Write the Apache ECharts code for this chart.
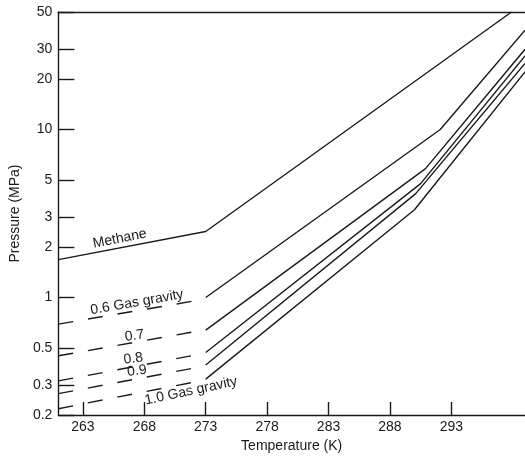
<!DOCTYPE html>
<html>
<head>
<meta charset="utf-8">
<script src="https://cdn.jsdelivr.net/npm/echarts@6/dist/echarts.min.js"></script>
<style>
  html, body { margin: 0; padding: 0; background: #fff; }
  #chart { width: 525px; height: 460px; }
</style>
</head>
<body>
<div id="chart"></div>
<script>
// temperature ticks and pressure ticks
const tempTicks = [263, 268, 273, 278, 283, 288, 293];
const pressTicks = [0.2, 0.3, 0.5, 1, 2, 3, 5, 10, 20, 30, 50];

// methane curve
const methaneT = [261, 273, 297.9];
const methaneP = [1.68, 2.47, 50];

// gas gravity curves: dashed below 273 K, solid above
const gravities = ['0.6', '0.7', '0.8', '0.9', '1.0'];
const lowT = [261, 273];
const lowStartP = [0.695, 0.45, 0.319, 0.268, 0.218];
const low273P = [0.98, 0.643, 0.467, 0.392, 0.324];
const high273P = [1.0, 0.64, 0.471, 0.397, 0.327];
const kinkT = [292.1, 290.9, 290.5, 290.1, 290.0];
const kinkP = [10.0, 5.85, 4.76, 4.15, 3.33];
const endT = 299;
const endP = [39, 30, 27.4, 24.7, 22.0];

// curve labels: text, temperature, pressure, angle (deg)
const labelText = ['Methane', '0.6 Gas gravity', '0.7', '0.8', '0.9', '1.0 Gas gravity'];
const labelT = [266.0, 267.4, 267.2, 267.1, 267.4, 271.8];
const labelP = [2.24, 0.936, 0.592, 0.433, 0.366, 0.278];
const labelAngle = [11, 10, 8, 8, 8, 12];

const font = 'Liberation Sans, Arial, sans-serif';
const ink = '#1a1a1a';

let chart = echarts.init(document.getElementById('chart'));

let series = [];
series.push({
  name: 'Methane',
  type: 'line',
  xAxisIndex: 0,
  yAxisIndex: 0,
  symbol: 'none',
  lineStyle: { color: ink, width: 1.4 },
  data: methaneT.map((t, i) => [t, methaneP[i]])
});
gravities.forEach((g, i) => {
  series.push({
    name: g + ' dashed',
    type: 'line',
    symbol: 'none',
    lineStyle: { color: ink, width: 1.4, type: [15, 15] },
    data: [[lowT[0], lowStartP[i]], [lowT[1], low273P[i]]]
  });
  series.push({
    name: g,
    type: 'line',
    symbol: 'none',
    lineStyle: { color: ink, width: 1.4 },
    data: [[273, high273P[i]], [kinkT[i], kinkP[i]], [endT, endP[i]]]
  });
});

let option = {
  animation: false,
  backgroundColor: '#fff',
  textStyle: { fontFamily: font, color: ink },
  grid: { left: 58, right: 0, top: 12, bottom: 45 },
  xAxis: [
    {
      type: 'value',
      min: 261,
      max: 299,
      name: 'Temperature (K)',
      nameLocation: 'middle',
      nameGap: 24,
      nameTextStyle: { fontSize: 14, color: ink, fontFamily: font },
      axisLine: { lineStyle: { color: ink, width: 1.4 } },
      axisTick: { inside: true, length: 13, customValues: tempTicks, lineStyle: { color: ink, width: 1.4 } },
      axisLabel: { customValues: tempTicks, fontSize: 14, color: ink, fontFamily: font, margin: 5 },
      splitLine: { show: false }
    },
    {
      type: 'value',
      position: 'top',
      min: 261,
      max: 299,
      axisLine: { show: true, lineStyle: { color: ink, width: 1.4 } },
      axisTick: { show: false },
      axisLabel: { show: false },
      splitLine: { show: false }
    }
  ],
  yAxis: {
    type: 'log',
    logBase: 10,
    min: 0.2,
    max: 50,
    name: 'Pressure (MPa)',
    nameLocation: 'middle',
    nameGap: 35,
    nameTextStyle: { fontSize: 14, color: ink, fontFamily: font },
    axisLine: { show: true, lineStyle: { color: ink, width: 1.4 } },
    axisTick: { inside: true, length: 16, customValues: pressTicks, lineStyle: { color: ink, width: 1.4 } },
    axisLabel: { customValues: pressTicks, fontSize: 14, color: ink, fontFamily: font, margin: 6 },
    splitLine: { show: false },
    minorTick: { show: false }
  },
  series: series
};
chart.setOption(option);

// place curve labels at data positions
let graphic = labelText.map((txt, i) => {
  let p = chart.convertToPixel({ seriesIndex: 0 }, [labelT[i], labelP[i]]);
  return {
    type: 'text',
    x: p[0],
    y: p[1],
    rotation: labelAngle[i] * Math.PI / 180,
    style: {
      text: txt,
      fill: ink,
      font: '14px ' + font,
      align: 'center',
      verticalAlign: 'middle'
    }
  };
});
chart.setOption({ graphic: graphic });
</script>
</body>
</html>
